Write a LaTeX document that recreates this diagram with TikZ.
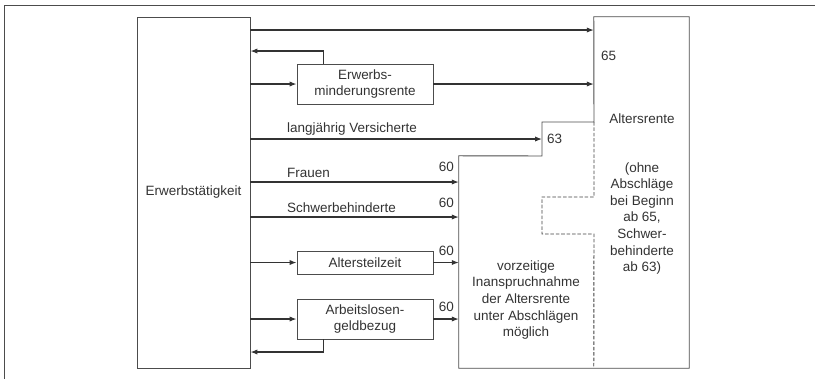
\documentclass[tikz,border=0pt]{standalone}
\usepackage{fontspec}
\setmainfont{Liberation Sans}
\usetikzlibrary{arrows.meta,positioning}

\begin{document}
\begin{tikzpicture}[
  x=0.03cm, y=-0.03cm,
  >=Latex,
  every node/.style={font=\fontsize{11.5}{14.1}\selectfont, text=black!80},
  box/.style={rectangle, draw=black!70, line width=0.8pt, align=center,
              minimum width=4.08cm, inner sep=0pt},
  region/.style={rectangle, draw=none, inner sep=0pt},
  lbl/.style={inner sep=0pt},
  txt/.style={inner sep=0pt, align=center},
  flow/.style={-{Latex[length=2.1mm, width=1.6mm]}, line width=1pt, black!80},
  outline/.style={line width=0.8pt, black!70},
  limit/.style={dash pattern=on 3pt off 1.6pt, line width=0.8pt, black!75},
]
\useasboundingbox (0,0) rectangle (815,379);

% ---------------------------------------------------------------- frame --
\draw[outline] (815,5) -- (4,5) -- (4,379);

% ---------------------------------------------------------------- boxes --
\node[box, minimum width=3.39cm, minimum height=10.53cm] (erwerb) at (193.5,192.5) {Erwerbst\"atigkeit};
\node[box, minimum height=1.2cm]  (emr) at (365,84)    {Erwerbs-\\minderungsrente};
\node[box, minimum height=0.69cm] (atz) at (365,262.5) {Altersteilzeit};
\node[box, minimum height=1.2cm]  (alg) at (365,319)   {Arbeitslosen-\\geldbezug};

% ------------------------------------------------------- pension regions --
\node[region, minimum width=2.85cm, minimum height=10.53cm] (alters) at (641.5,192.5) {};
\node[region, minimum width=4.05cm, minimum height=6.36cm] (vorz) at (526.5,262) {};
\coordinate (step63) at (542,139);

\draw[outline] (594,122) -- (alters.north west) -- (alters.north east) -- (alters.south east)
  -- (vorz.south west) -- (vorz.north west) -- (542,156) -- (542,122) -- cycle;
\draw[limit] (594,122) -- (594,197) -- (542,197) -- (542,234) -- (594,234) -- (alters.south west);

% ---------------------------------------------------------------- texts --
\node[txt] (altersrente) at (642,119) {Altersrente};
\node[txt] (ohne) at (642,218.5) {(ohne\\Abschl\"age\\bei Beginn\\ab 65,\\Schwer-\\behinderte\\ab 63)};
\node[txt] (vorztext) at (526,300) {vorzeitige\\Inanspruchnahme\\der Altersrente\\unter Abschl\"agen\\m\"oglich};

% ----------------------------------------------------------- main flow --
\draw[flow] (erwerb.east |- 0,30) -- (alters.west |- 0,30);
\draw[flow] ([xshift=0.81cm]emr.north west) |- (erwerb.east |- 0,51);
\draw[flow] (erwerb.east |- emr.west) -- (emr.west);
\draw[flow] (emr.east) -- (alters.west |- emr.east);
\draw[flow] (erwerb.east |- step63) -- (step63);
\draw[flow] (erwerb.east |- 0,182) -- (vorz.west |- 0,182);
\draw[flow] (erwerb.east |- 0,217) -- (vorz.west |- 0,217);
\draw[flow] (erwerb.east |- atz.west) -- (atz.west);
\draw[flow] (atz.east) -- (vorz.west |- atz.east);
\draw[flow] (erwerb.east |- alg.west) -- (alg.west);
\draw[flow] (alg.east) -- (vorz.west |- alg.east);
\draw[flow] ([xshift=0.81cm]alg.south west) |- (erwerb.east |- 0,352);

% --------------------------------------------------------------- labels --
\node[lbl, anchor=west] (l-lang)   at (287,129) {langj\"ahrig Versicherte};
\node[lbl, anchor=west] (l-frauen) at (287,173) {Frauen};
\node[lbl, anchor=west] (l-schwer) at (287,208) {Schwerbehinderte};
\node[lbl, anchor=west] (a65) at (601,56)  {65};
\node[lbl, anchor=west] (a63) at (547,139) {63};
\node[lbl, anchor=east] (a60a) at (454,167) {60};
\node[lbl, anchor=east] (a60b) at (454,203) {60};
\node[lbl, anchor=east] (a60c) at (454,251) {60};
\node[lbl, anchor=east] (a60d) at (454,307) {60};

\end{tikzpicture}
\end{document}
